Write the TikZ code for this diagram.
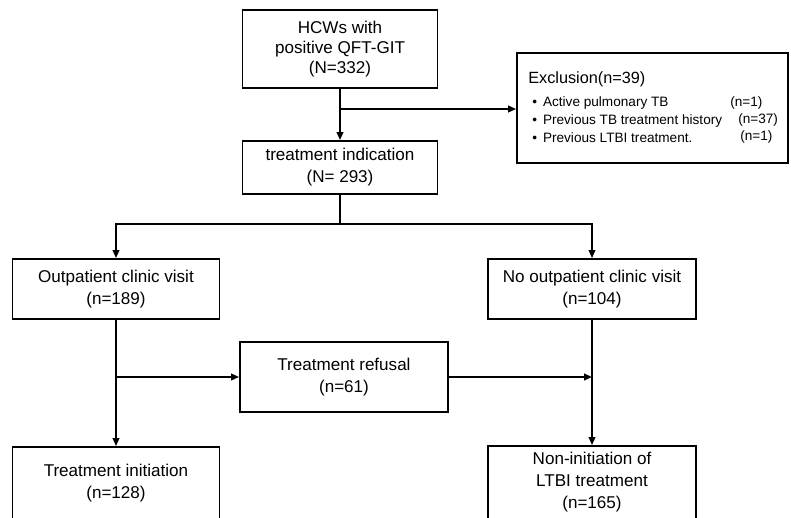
\documentclass[tikz,border=0pt]{standalone}
\usepackage{fontspec}
\setmainfont{Liberation Sans}
\usetikzlibrary{arrows.meta,calc}
\begin{document}
\begin{tikzpicture}[x=0.75pt,y=-0.75pt,
  box/.style={draw=black,line width=1.4pt,inner sep=0pt,align=center,
    font=\fontsize{12.8}{16.5}\selectfont},
  conn/.style={line width=1.4pt,draw=black},
  arr/.style={conn,-{Triangle[length=6pt,width=5pt]}},
  small/.style={inner sep=0pt,anchor=west,font=\fontsize{10.2}{12}\selectfont}]
\useasboundingbox[fill=white] (0,0) rectangle (791,517);
\node[box,minimum width=146.25pt,minimum height=58.5pt,
  font=\fontsize{12.8}{14.8}\selectfont] (top) at (340,49)
  {HCWs with\\positive QFT-GIT\\(N=332)};
\node[box,minimum width=146.25pt,minimum height=39.75pt] (treat) at (340,167.5)
  {treatment indication\\(N= 293)};
\node[box,minimum width=203.25pt,minimum height=82.5pt] (excl) at (652.5,108) {};
\node[inner sep=0pt,anchor=west,font=\fontsize{12.2}{14}\selectfont] (exh) at (528,79) {Exclusion(n=39)};
\node[small] (e1) at (532,103) {\textbullet\hspace{4.5pt}Active pulmonary TB};
\node[small] (e2) at (532,121) {\textbullet\hspace{4.5pt}Previous TB treatment history};
\node[small] (e3) at (532,138) {\textbullet\hspace{4.5pt}Previous LTBI treatment.};
\node[small] (n1) at (730,103) {(n=1)};
\node[small] (n2) at (738,120) {(n=37)};
\node[small] (n3) at (740,137) {(n=1)};
\node[box,minimum width=155.25pt,minimum height=45pt] (out) at (116,289)
  {Outpatient clinic visit\\(n=189)};
\node[box,minimum width=156pt,minimum height=45pt] (noout) at (592,289)
  {No outpatient clinic visit\\(n=104)};
\node[box,minimum width=156pt,minimum height=52.5pt] (ref) at (344,377)
  {Treatment refusal\\(n=61)};
\node[box,minimum width=155.25pt,minimum height=54pt] (init) at (116,483)
  {Treatment initiation\\(n=128)};
\node[box,minimum width=156pt,minimum height=54.75pt] (noninit) at (592,482.5)
  {Non-initiation of\\LTBI treatment\\(n=165)};
% connectors
\coordinate (h1) at (0,109);
\coordinate (h2) at (0,224);
\coordinate (h3) at (0,377);
\coordinate (b1) at (top.south |- h1);
\coordinate (b2) at (treat.south |- h2);
\coordinate (b3) at (out.south |- h3);
\draw[arr] (top.south) -- (treat.north);
\draw[arr] (b1) -- (b1 -| excl.west);
\draw[conn] (treat.south) -- (b2);
\draw[arr] (b2) -| (out.north);
\draw[arr] (b2) -| (noout.north);
\draw[arr] (out.south) -- (init.north);
\draw[arr] (b3) -- (ref.west);
\draw[arr] (noout.south) -- (noninit.north);
\draw[arr] (ref.east) -- (ref.east -| noout.south);
\end{tikzpicture}
\end{document}
